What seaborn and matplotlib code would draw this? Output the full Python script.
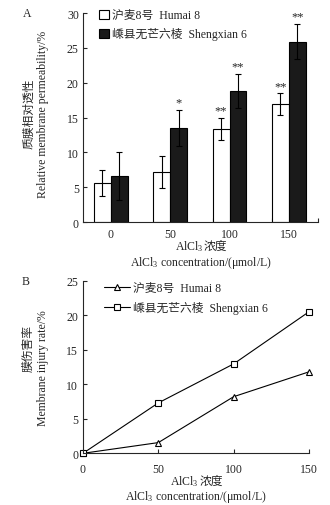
import matplotlib
matplotlib.use("Agg")
import matplotlib.pyplot as plt
import seaborn as sns
import pandas as pd
import numpy as np
from matplotlib.lines import Line2D
from matplotlib.patches import Patch

# ---------------- data ----------------
concentrations = ["0", "50", "100", "150"]
cultivars = ["沪麦8号  Humai 8", "嵊县无芒六棱  Shengxian 6"]
humai_perm = [5.6, 7.2, 13.4, 16.9]
humai_err = [1.9, 2.25, 1.6, 1.55]
sheng_perm = [6.6, 13.45, 18.85, 25.9]
sheng_err = [3.4, 2.6, 2.45, 2.5]
humai_sig = ["", "", "**", "**"]
sheng_sig = ["", "*", "**", "**"]

conc_num = [0, 50, 100, 150]
humai_injury = [0.0, 1.55, 8.2, 11.8]
sheng_injury = [0.0, 7.3, 12.95, 20.5]

# ---------------- style ----------------
sns.set_theme(style="ticks")
fam = ["Liberation Serif", "Noto Sans CJK SC"]
plt.rcParams["font.family"] = fam
plt.rcParams["mathtext.fontset"] = "custom"
plt.rcParams["mathtext.rm"] = "Liberation Serif"
plt.rcParams["mathtext.it"] = "Liberation Serif:italic"
plt.rcParams["axes.linewidth"] = 0.8
fs = 8.5
W, H = 330, 506

fig = plt.figure(figsize=(3.3, 5.06), dpi=100)
axA = fig.add_axes([83/W, 1-223/H, 235/W, 209/H])
axB = fig.add_axes([83/W, 1-454.3/H, 226/W, 172.6/H])


def ftext(x, y, s, **kw):
    return fig.text(x / W, 1 - y / H, s, fontsize=kw.pop("fontsize", fs), **kw)


# ---------------- panel A ----------------
dfA = pd.DataFrame({
    "conc": concentrations * 2,
    "cultivar": [cultivars[0]] * 4 + [cultivars[1]] * 4,
    "value": humai_perm + sheng_perm,
    "err": humai_err + sheng_err,
    "sig": humai_sig + sheng_sig,
})
sns.barplot(data=dfA, x="conc", y="value", hue="cultivar", order=concentrations,
            hue_order=cultivars, palette=["white", "#1a1a1a"], width=0.57,
            edgecolor="black", linewidth=0.8, errorbar=None, legend=False, ax=axA)

bars = [p for p in axA.patches if p.get_height() > 0]
for i, p in enumerate(bars[:8]):
    cx = p.get_x() + p.get_width() / 2
    h = p.get_height()
    e = dfA["err"].iloc[i]
    axA.errorbar(cx, h, yerr=e, fmt="none", ecolor="black", elinewidth=0.8,
                 capsize=2.5, capthick=0.8, zorder=5)
    s = dfA["sig"].iloc[i]
    if s:
        axA.text(cx, h + e + 0.2, s, ha="center", va="bottom", fontsize=9,
                 family=fam)

axA.set_xlim(-0.47, 3.49)
axA.set_ylim(0, 30)
axA.set_yticks(np.arange(0, 31, 5))
axA.set_xticks(range(4))
axA.set_xticklabels(concentrations)
axA.tick_params(axis="x", length=0, labelsize=fs, pad=4)
axA.set_xticks([0.72, 1.72, 2.72, 3.49], minor=True)
axA.tick_params(axis="x", which="minor", direction="in", length=3, width=0.8)
axA.tick_params(axis="y", direction="in", length=3, width=0.8, labelsize=fs, pad=3)
for s in ["top", "right"]:
    axA.spines[s].set_visible(False)
axA.set_xlabel("")
axA.set_ylabel("")
ftext(29, 114, "质膜相对透性", rotation=90, ha="center", va="center")
ftext(43, 114, "Relative membrane permeability/%", rotation=90, ha="center", va="center")

handlesA = [Patch(facecolor="white", edgecolor="black", linewidth=0.8),
            Patch(facecolor="#1a1a1a", edgecolor="black", linewidth=0.8)]
axA.legend(handlesA, cultivars, loc="upper left", bbox_to_anchor=(0.05, 1.04),
           frameon=False, fontsize=fs, handlelength=0.8, handleheight=0.8,
           handletextpad=0.3, labelspacing=0.5, borderaxespad=0)
ftext(27, 14, "A", ha="center", va="center")

# ---------------- panel B ----------------
dfB = pd.DataFrame({
    "conc": conc_num * 2,
    "cultivar": [cultivars[0]] * 4 + [cultivars[1]] * 4,
    "rate": humai_injury + sheng_injury,
})
sns.lineplot(data=dfB, x="conc", y="rate", hue="cultivar", style="cultivar",
             hue_order=cultivars, style_order=cultivars,
             palette=["black", "black"], markers={cultivars[0]: "^", cultivars[1]: "s"},
             dashes=False, linewidth=0.8, markersize=5, markerfacecolor="white",
             markeredgecolor="black", markeredgewidth=0.8, legend=False, ax=axB)
axB.set_xlim(0, 150)
axB.set_ylim(0, 25)
axB.set_xticks(conc_num)
axB.set_yticks(np.arange(0, 26, 5))
axB.tick_params(axis="both", direction="in", length=3, width=0.8, labelsize=fs)
axB.tick_params(axis="x", pad=7)
for s in ["top", "right"]:
    axB.spines[s].set_visible(False)
for ln in axB.lines:
    ln.set_clip_on(False)
axB.set_xlabel("")
axB.set_ylabel("")
ftext(29, 348, "膜伤害率", rotation=90, ha="center", va="center")
ftext(43, 368, "Membrane injury rate/%", rotation=90, ha="center", va="center")

handlesB = [Line2D([], [], color="black", lw=0.8, marker="^", ms=5,
                   mfc="white", mec="black", mew=0.8),
            Line2D([], [], color="black", lw=0.8, marker="s", ms=5,
                   mfc="white", mec="black", mew=0.8)]
axB.legend(handlesB, cultivars, loc="upper left", bbox_to_anchor=(0.07, 1.02),
           frameon=False, fontsize=fs, handlelength=2.2, handletextpad=0.3,
           labelspacing=0.6, borderaxespad=0)
ftext(26, 282, "B", ha="center", va="center")

# x-axis titles (AlCl3 with subscript + Chinese)
for center, y1, y2 in [((83 + 318) / 2, 250, 266), ((83 + 309) / 2, 485, 500)]:
    ftext(center + 3, y1, "AlCl$_3$", ha="right", va="baseline")
    ftext(center + 3.5, y1, "浓度", ha="left", va="baseline")
    ftext(center, y2, "AlCl$_3$ concentration/(μmol/L)", ha="center", va="baseline")

fig.savefig("out.png", dpi=100)
